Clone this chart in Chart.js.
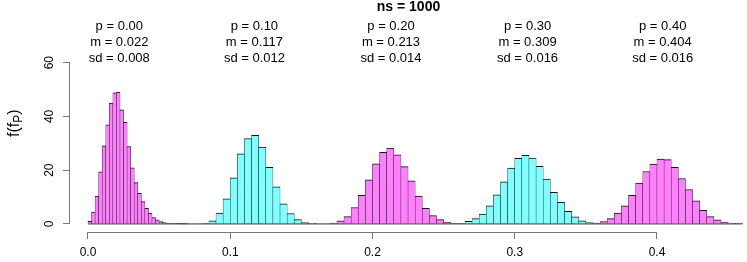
<!DOCTYPE html>
<html>
<head>
<meta charset="utf-8">
<script src="https://cdn.jsdelivr.net/npm/chart.js@4"></script>
<style>
  body { margin: 0; background: #fff; }
  canvas { display: block; }
</style>
</head>
<body>
<canvas id="histChart" width="747" height="262"></canvas>
<script>
// histogram settings, one entry per p
const pValues = [0.00, 0.10, 0.20, 0.30, 0.40];
const means = [0.022, 0.117, 0.213, 0.309, 0.404];
const sds = [0.008, 0.012, 0.014, 0.016, 0.016];
const firstBreak = [0, 0.08, 0.17, 0.26, 0.355];
const binWidth = [0.0025, 0.005, 0.005, 0.005, 0.005];

// densities, read bar by bar
const dens0 = [1.0, 4.4, 10.4, 19.4, 29.1, 36.9, 45.0, 48.8, 49.1, 42.5, 37.8, 28.8, 20.9, 15.4, 11.4, 8.3, 5.8, 4.0, 2.4, 1.5, 0.9, 0.5, 0.3, 0.2, 0.1, 0.1, 0.05, 0.05];
const dens1 = [0.2, 1.2, 4.0, 9.3, 17.2, 26.1, 31.8, 33.0, 28.6, 21.1, 13.8, 7.5, 3.9, 1.6, 0.5, 0.1];
const dens2 = [0.3, 1.2, 2.7, 6.1, 10.6, 16.4, 22.4, 26.6, 28.2, 25.7, 21.3, 16.0, 10.4, 5.8, 3.1, 1.6, 0.6, 0.2];
const dens3 = [0.2, 1.0, 2.0, 3.7, 6.7, 10.8, 15.7, 20.8, 24.4, 25.5, 24.5, 21.4, 16.7, 11.8, 8.0, 4.7, 2.6, 1.2, 0.5, 0.2];
const dens4 = [0.3, 0.9, 2.0, 4.0, 6.7, 10.6, 15.2, 19.5, 22.3, 24.1, 23.9, 21.1, 16.9, 12.8, 8.6, 5.1, 2.7, 1.5, 0.7, 0.3, 0.1];
const densities = [dens0, dens1, dens2, dens3, dens4];

const xTicks = [0, 0.1, 0.2, 0.3, 0.4];
const yTicks = [0, 20, 40, 60];

const titleText = 'ns = 1000';
const fillColors = ['rgb(255,128,255)', 'rgb(128,255,255)'];
const fontFamily = '"Liberation Sans", Arial, Helvetica, sans-serif';

const datasets = densities.map((d, i) => ({
    data: d.map((v, k) => ({ x: firstBreak[i] + (k + 0.5) * binWidth[i], y: v })),
    backgroundColor: fillColors[i % 2],
    borderColor: '#111',
    borderWidth: { top: 1, left: 0.5, right: 0.5, bottom: 0 },
    borderSkipped: false,
    barThickness: 'flex',
    barPercentage: 1,
    categoryPercentage: 1,
    stack: 'hist'
}));

// R-style axis lines (first tick to last), baseline, title and the p/m/sd notes
const decorations = {
    id: 'decorations',
    afterDatasetsDraw(chart) {
        const { ctx, chartArea, scales: { x, y } } = chart;
        ctx.save();
        // baseline under the bars
        const lastI = densities.length - 1;
        const xEnd = firstBreak[lastI] + densities[lastI].length * binWidth[lastI];
        ctx.strokeStyle = '#333';
        ctx.lineWidth = 1;
        ctx.beginPath();
        ctx.moveTo(x.getPixelForValue(firstBreak[0]), y.getPixelForValue(0));
        ctx.lineTo(x.getPixelForValue(xEnd), y.getPixelForValue(0));
        ctx.stroke();

        // axis lines
        ctx.strokeStyle = '#777';
        ctx.beginPath();
        ctx.moveTo(x.getPixelForValue(xTicks[0]), chartArea.bottom + 0.5);
        ctx.lineTo(x.getPixelForValue(xTicks[xTicks.length - 1]), chartArea.bottom + 0.5);
        ctx.moveTo(chartArea.left - 0.5, y.getPixelForValue(yTicks[0]));
        ctx.lineTo(chartArea.left - 0.5, y.getPixelForValue(yTicks[yTicks.length - 1]));
        ctx.stroke();

        // title
        ctx.fillStyle = '#000';
        ctx.textAlign = 'center';
        ctx.textBaseline = 'middle';
        ctx.font = 'bold 14px ' + fontFamily;
        ctx.fillText(titleText, (chartArea.left + chartArea.right) / 2, 7);

        // notes above each histogram
        ctx.font = '13px ' + fontFamily;
        means.forEach((m, i) => {
            const px = x.getPixelForValue(m);
            ctx.fillText('p = ' + pValues[i].toFixed(2), px, 26);
            ctx.fillText('m = ' + m.toFixed(3), px, 42);
            ctx.fillText('sd = ' + sds[i].toFixed(3), px, 58);
        });

        // y title f(f_P)
        ctx.translate(15, (chartArea.top + chartArea.bottom) / 2);
        ctx.rotate(-Math.PI / 2);
        ctx.textAlign = 'left';
        ctx.textBaseline = 'middle';
        const big = '16px ' + fontFamily;
        const small = '12px ' + fontFamily;
        ctx.font = big;
        const w1 = ctx.measureText('f(f').width;
        ctx.font = small;
        const w2 = ctx.measureText('P').width;
        ctx.font = big;
        const w3 = ctx.measureText(')').width;
        let tx = -(w1 + w2 + w3) / 2;
        ctx.fillText('f(f', tx, 0);
        tx += w1;
        ctx.font = small;
        ctx.fillText('P', tx, 4);
        tx += w2;
        ctx.font = big;
        ctx.fillText(')', tx, 0);
        ctx.restore();
    }
};

const ctx = document.getElementById('histChart').getContext('2d');
const histChart = new Chart(ctx, {
    type: 'bar',
    data: { datasets: datasets },
    options: {
        responsive: false,
        animation: false,
        events: [],
        layout: { padding: { top: 14.3, left: 0, right: 0, bottom: 0 } },
        plugins: {
            legend: { display: false },
            tooltip: { enabled: false }
        },
        scales: {
            x: {
                type: 'linear',
                stacked: true,
                min: -0.01265,
                max: 0.46327,
                offset: false,
                border: { display: false },
                grid: { offset: false, drawOnChartArea: false, drawTicks: true, tickLength: 7, color: '#777' },
                afterBuildTicks: (scale) => { scale.ticks = xTicks.map(v => ({ value: v })); },
                afterFit: (scale) => { scale.height = 30; },
                ticks: {
                    color: '#000',
                    padding: 6,
                    maxRotation: 0,
                    font: { family: fontFamily, size: 12 },
                    callback: (v) => v.toFixed(1)
                }
            },
            y: {
                stacked: false,
                min: -3,
                max: 78,
                border: { display: false },
                grid: { drawOnChartArea: false, drawTicks: true, tickLength: 7, color: '#777' },
                afterBuildTicks: (scale) => { scale.ticks = yTicks.map(v => ({ value: v })); },
                afterFit: (scale) => { scale.width = 70; },
                ticks: {
                    color: '#000',
                    padding: 7,
                    minRotation: 90,
                    maxRotation: 90,
                    crossAlign: 'center',
                    font: { family: fontFamily, size: 12 }
                }
            }
        }
    },
    plugins: [decorations]
});
</script>
</body>
</html>
